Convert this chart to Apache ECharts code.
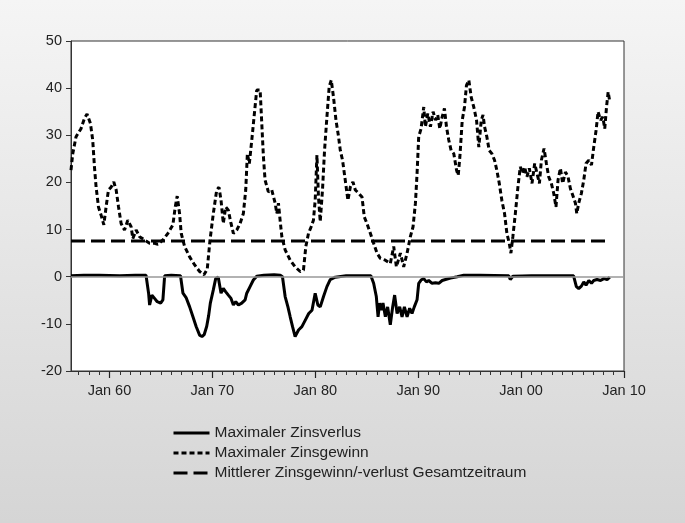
<!DOCTYPE html>
<html>
<head>
<meta charset="utf-8">
<title>Zinsgewinn / Zinsverlust</title>
<script src="https://cdn.jsdelivr.net/npm/echarts@6/dist/echarts.min.js"></script>
<style>
  html, body { margin: 0; padding: 0; }
  #chart { width: 685px; height: 523px; }
</style>
</head>
<body>
<div id="chart"></div>
<script>
// Zeitpunkte als Dezimaljahr, Werte in Prozentpunkten
const gainDates = [
  1956.26, 1956.43, 1956.75, 1957.23, 1957.57, 1957.82, 1958.15, 1958.37, 1958.54, 1958.7,
  1958.93, 1959.18, 1959.45, 1959.67, 1959.9, 1960.16, 1960.42, 1960.65, 1960.88, 1961.13,
  1961.46, 1961.78, 1962.1, 1962.27, 1962.59, 1962.92, 1963.4, 1963.9, 1964.38, 1964.7,
  1965.19, 1965.68, 1966.16, 1966.39, 1966.58, 1966.81, 1966.97, 1967.3, 1967.79, 1968.28,
  1968.76, 1969.18, 1969.5, 1969.77, 1970.09, 1970.42, 1970.64, 1970.84, 1971.06, 1971.3,
  1971.55, 1971.81, 1972.04, 1972.37, 1972.69, 1973.01, 1973.24, 1973.4, 1973.59, 1973.83,
  1974.08, 1974.31, 1974.64, 1974.8, 1974.96, 1975.12, 1975.44, 1975.77, 1976.1, 1976.26,
  1976.42, 1976.58, 1976.75, 1977.07, 1977.56, 1978.04, 1978.53, 1978.85, 1979.08, 1979.34,
  1979.6, 1979.82, 1979.99, 1980.16, 1980.31, 1980.48, 1980.7, 1980.9, 1981.13, 1981.35,
  1981.55, 1981.77, 1982.01, 1982.26, 1982.43, 1982.65, 1982.91, 1983.17, 1983.4, 1983.66,
  1983.89, 1984.21, 1984.54, 1984.76, 1985.02, 1985.35, 1985.67, 1986.0, 1986.32, 1986.81,
  1987.29, 1987.62, 1987.88, 1988.27, 1988.59, 1988.92, 1989.24, 1989.5, 1989.73, 1989.89,
  1990.05, 1990.28, 1990.54, 1990.7, 1990.93, 1991.19, 1991.45, 1991.68, 1991.9, 1992.1,
  1992.33, 1992.55, 1992.75, 1992.97, 1993.2, 1993.46, 1993.73, 1993.89, 1994.05, 1994.28,
  1994.5, 1994.69, 1994.92, 1995.15, 1995.4, 1995.67, 1995.89, 1996.13, 1996.3, 1996.45,
  1996.67, 1996.9, 1997.16, 1997.42, 1997.64, 1997.88, 1998.13, 1998.39, 1998.62, 1998.85,
  1999.01, 1999.2, 1999.44, 1999.69, 1999.92, 2000.15, 2000.34, 2000.57, 2000.8, 2001.06,
  2001.32, 2001.55, 2001.78, 2001.97, 2002.23, 2002.46, 2002.68, 2002.94, 2003.17, 2003.39,
  2003.59, 2003.82, 2004.04, 2004.31, 2004.56, 2004.79, 2005.02, 2005.28, 2005.41, 2005.6,
  2005.86, 2006.09, 2006.31, 2006.58, 2006.84, 2007.06, 2007.29, 2007.48, 2007.72, 2007.94,
  2008.13, 2008.3, 2008.46, 2008.62
];
const gainValues = [
  22.6, 26.1, 29.7, 31.4, 33.6, 34.5, 32.5, 29.0, 23.3, 19.0,
  14.8, 13.1, 11.0, 14.8, 18.4, 19.0, 20.1, 18.4, 14.8, 11.3,
  9.9, 12.0, 10.6, 8.1, 9.9, 8.5, 7.8, 7.1, 7.1, 6.9,
  7.8, 9.2, 11.0, 14.8, 17.1, 13.4, 9.2, 6.4, 4.2, 2.5,
  1.1, 0.4, 1.6, 7.8, 13.4, 18.4, 19.0, 16.2, 11.3, 14.8,
  14.1, 11.3, 9.2, 9.9, 11.3, 13.4, 18.4, 26.1, 24.0, 29.0,
  34.6, 39.6, 39.6, 32.5, 25.4, 20.5, 18.0, 18.4, 15.6, 13.4,
  15.6, 12.0, 8.5, 5.7, 3.5, 2.1, 1.1, 1.4, 6.4, 9.2,
  10.6, 12.0, 16.2, 25.8, 16.9, 11.7, 18.4, 26.8, 33.9, 40.3,
  41.7, 38.1, 33.2, 29.7, 26.8, 24.7, 20.5, 16.2, 19.0, 20.1,
  18.4, 17.7, 16.9, 12.7, 11.3, 9.2, 7.1, 5.0, 3.9, 3.5,
  2.8, 6.4, 2.1, 5.0, 2.1, 5.0, 8.5, 10.6, 15.6, 21.9,
  29.7, 31.4, 36.0, 31.8, 34.6, 31.8, 35.0, 33.2, 34.3, 31.4,
  33.9, 35.7, 31.8, 29.0, 26.8, 26.1, 22.6, 21.5, 25.4, 33.2,
  36.0, 40.6, 41.7, 38.1, 36.0, 33.2, 27.5, 33.2, 34.3, 31.8,
  29.7, 26.8, 26.1, 24.7, 22.6, 19.8, 16.2, 13.4, 9.2, 7.1,
  5.0, 8.5, 13.4, 19.0, 23.3, 21.9, 23.3, 21.2, 23.0, 19.8,
  24.0, 21.9, 19.8, 24.7, 27.2, 24.0, 21.2, 19.8, 17.7, 14.8,
  20.5, 23.0, 19.8, 22.2, 21.2, 18.7, 17.3, 15.6, 13.4, 15.6,
  17.7, 20.5, 24.0, 24.7, 23.7, 27.5, 31.1, 35.0, 33.2, 33.9,
  31.4, 36.0, 39.2, 37.1
];

const lossDates = [
  1956.26, 1957.5, 1959.0, 1961.0, 1962.5, 1963.55, 1963.66, 1963.8, 1963.9, 1964.12,
  1964.38, 1964.64, 1964.97, 1965.19, 1965.36, 1966.0, 1966.9, 1967.14, 1967.46, 1967.79,
  1968.11, 1968.43, 1968.76, 1968.99, 1969.2, 1969.45, 1969.64, 1969.8, 1970.09, 1970.32,
  1970.57, 1970.84, 1971.06, 1971.3, 1971.55, 1971.81, 1972.04, 1972.27, 1972.53, 1972.85,
  1973.18, 1973.34, 1973.66, 1973.98, 1974.31, 1975.0, 1976.0, 1976.6, 1976.81, 1977.07,
  1977.34, 1977.56, 1977.79, 1978.04, 1978.37, 1978.7, 1979.03, 1979.36, 1979.68, 1979.99,
  1980.25, 1980.48, 1980.8, 1981.13, 1981.45, 1981.94, 1983.0, 1984.5, 1985.4, 1985.5,
  1985.67, 1985.93, 1986.1, 1986.25, 1986.42, 1986.58, 1986.81, 1987.03, 1987.29, 1987.52,
  1987.71, 1987.95, 1988.2, 1988.43, 1988.66, 1988.92, 1989.17, 1989.4, 1989.62, 1989.89,
  1990.05, 1990.28, 1990.54, 1990.8, 1991.02, 1991.35, 1991.68, 1992.0, 1992.33, 1992.65,
  1993.14, 1993.79, 1994.43, 1996.0, 1998.8, 1998.95, 1999.2, 2001.0, 2003.0, 2005.1,
  2005.2, 2005.37, 2005.6, 2005.86, 2006.09, 2006.31, 2006.58, 2006.84, 2007.06, 2007.38,
  2007.72, 2008.04, 2008.36, 2008.62
];
const lossValues = [
  0.2, 0.3, 0.3, 0.2, 0.3, 0.3, 0.0, -3.5, -6.0, -3.9,
  -4.6, -5.3, -5.6, -4.9, 0.2, 0.3, 0.2, -3.5, -4.5, -6.4,
  -8.5, -10.6, -12.4, -12.7, -12.3, -10.5, -8.2, -5.6, -2.8, -0.4,
  -0.1, -3.5, -2.5, -3.2, -3.9, -4.6, -6.0, -5.3, -6.0, -5.6,
  -4.9, -3.5, -2.1, -0.7, 0.1, 0.3, 0.4, 0.3, 0.0, -4.2,
  -6.4, -8.5, -10.6, -12.7, -11.3, -10.6, -9.2, -7.8, -7.1, -3.5,
  -6.0, -6.4, -4.2, -2.1, -0.6, -0.1, 0.2, 0.2, 0.2, -0.1,
  -1.4, -4.2, -8.5, -5.6, -7.1, -5.6, -8.5, -6.4, -10.2, -6.4,
  -3.9, -7.8, -6.4, -8.5, -6.4, -8.5, -6.7, -7.8, -6.4, -4.9,
  -1.4, -0.7, -0.4, -1.1, -0.8, -1.4, -1.3, -1.4, -0.8, -0.6,
  -0.3, 0.0, 0.3, 0.3, 0.2, -0.6, 0.1, 0.2, 0.2, 0.2,
  -0.1, -2.1, -2.5, -2.0, -1.1, -1.8, -0.8, -1.4, -0.8, -0.6,
  -0.8, -0.4, -0.6, -0.1
];

const meanValue = 7.6;
const meanDates = [1956.26, 2008.68];

const yearLabels = [1960, 1970, 1980, 1990, 2000, 2010];
const minorYears = [];
for (let y = 1957; y <= 2009; y++) {
  if (y % 10 !== 0) minorYears.push(y);
}

const zip = (xs, ys) => xs.map((x, i) => [x, ys[i]]);

const chart = echarts.init(document.getElementById('chart'));
const font = '"Liberation Sans", Arial, sans-serif';

chart.setOption({
  backgroundColor: {
    type: 'linear', x: 0, y: 0, x2: 0, y2: 1,
    colorStops: [{ offset: 0, color: '#f5f5f5' }, { offset: 1, color: '#d5d5d5' }]
  },
  textStyle: { fontFamily: font },
  animation: false,
  grid: {
    left: 71, right: 61, top: 41, bottom: 152,
    show: true, backgroundColor: '#ffffff', borderColor: '#333', borderWidth: 1
  },
  legend: {
    orient: 'vertical',
    left: 172, top: 425, padding: 0,
    itemWidth: 36, itemHeight: 14, itemGap: 4,
    itemStyle: { opacity: 0 },
    lineStyle: { width: 3 },
    textStyle: { fontSize: 15.5, color: '#222', fontFamily: font }
  },
  xAxis: [
    {
      type: 'value', min: 1956.26, max: 2010,
      axisLine: { show: true, onZero: false, lineStyle: { color: '#333', width: 1 } },
      axisTick: { show: true, customValues: yearLabels, length: 7, lineStyle: { color: '#222', width: 1.2 } },
      axisLabel: {
        customValues: yearLabels, margin: 12, fontSize: 14.5, color: '#222',
        formatter: v => 'Jan ' + String(v % 100).padStart(2, '0')
      },
      splitLine: { show: false }
    },
    {
      type: 'value', min: 1956.26, max: 2010, position: 'bottom',
      axisLine: { show: false, onZero: false },
      axisTick: { show: true, customValues: minorYears, length: 4, lineStyle: { color: '#333' } },
      axisLabel: { show: false },
      splitLine: { show: false }
    }
  ],
  yAxis: {
    type: 'value', min: -20, max: 50, interval: 10,
    axisLine: { show: true, lineStyle: { color: '#333', width: 1 } },
    axisTick: { show: true, length: 5, lineStyle: { color: '#333' } },
    axisLabel: { fontSize: 14.5, color: '#222', margin: 9 },
    splitLine: { show: false }
  },
  series: [
    {
      name: 'Maximaler Zinsverlus',
      type: 'line',
      data: zip(lossDates, lossValues),
      symbol: 'none',
      lineStyle: { color: '#000', width: 3 },
      itemStyle: { color: 'rgba(0,0,0,0)' },
      z: 4,
      markLine: {
        silent: true, symbol: 'none', label: { show: false },
        lineStyle: { color: '#999', width: 1.5, type: 'solid' },
        data: [{ yAxis: 0 }]
      }
    },
    {
      name: 'Maximaler Zinsgewinn',
      type: 'line',
      data: zip(gainDates, gainValues),
      symbol: 'none',
      lineStyle: { color: '#000', width: 3, type: [5, 3] },
      itemStyle: { color: 'rgba(0,0,0,0)' },
      z: 3
    },
    {
      name: 'Mittlerer Zinsgewinn/-verlust Gesamtzeitraum',
      type: 'line',
      data: meanDates.map(d => [d, meanValue]),
      symbol: 'none',
      lineStyle: { color: '#000', width: 3, type: [14, 6] },
      itemStyle: { color: 'rgba(0,0,0,0)' },
      z: 2
    }
  ]
});
</script>
</body>
</html>
